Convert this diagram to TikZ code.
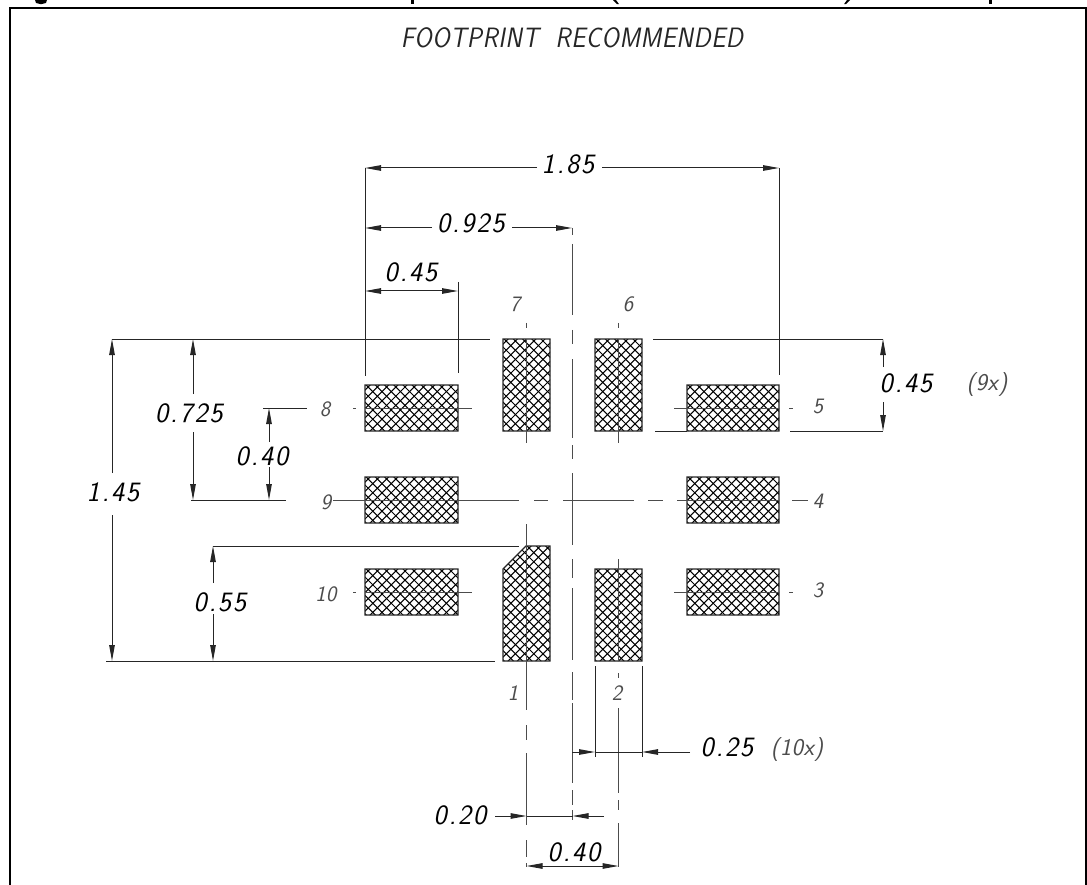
\documentclass[tikz,border=0pt]{standalone}
\usepackage{fontspec}
\usetikzlibrary{arrows.meta}
\newfontfamily\dimfont[LetterSpace=7]{Latin Modern Sans}[FakeSlant=0.2]
\newfontfamily\numfont[LetterSpace=2]{Latin Modern Sans}[FakeSlant=0.2]
\tikzset{
  framel/.style={line width=2pt,black},
  padl/.style={line width=1.3pt,black!85},
  hatchl/.style={line width=1.05pt,black},
  cl/.style={line width=1pt,black!70},
  ext/.style={line width=1pt,black!85},
  dimline/.style={line width=1pt,black!85,-{Stealth[length=16pt,width=5.5pt,inset=0pt]}},
  dimboth/.style={line width=1pt,black!85,{Stealth[length=16pt,width=5.5pt,inset=0pt]}-{Stealth[length=16pt,width=5.5pt,inset=0pt]}},
  dimtext/.style={inner sep=0pt,font=\dimfont\fontsize{28}{28}\selectfont,black},
  numtext/.style={inner sep=0pt,font=\numfont\fontsize{22}{22}\selectfont,black!70},
  noteText/.style={inner sep=0pt,font=\numfont\fontsize{24}{24}\selectfont,black!70},
  titletext/.style={inner sep=0pt,font=\numfont\fontsize{28}{28}\selectfont,black!85},
  frag/.style={fill=black,draw=none}
}
\newcommand{\padpaths}{
  (365,385) rectangle (458,431) (365,477) rectangle (458,523) (365,569) rectangle (458,615)
  (687,385) rectangle (779,431) (687,477) rectangle (779,523) (687,569) rectangle (779,615)
  (503,339) rectangle (550,431) (595,339) rectangle (642,431)
  (595,569) rectangle (642,661)
  (503,569) -- (526,546) -- (550,546) -- (550,661) -- (503,661) -- cycle
}
\begin{document}
\begin{tikzpicture}[x=1pt,y=-1pt]
\useasboundingbox (0,0) rectangle (1087,885);
% clipped fragments of a heading above the frame
\fill[frag] (35,0) -- (47,0) -- (46,3) -- (41,4.2) -- (36,3) -- cycle;
\fill[frag] (411,0) rectangle (414,4.5);
\fill[frag] (613,0) -- (616,0) -- (619,4.2) -- (617,4.2) -- cycle;
\fill[frag] (847,0) -- (850,0) -- (846,4.2) -- (844,4.2) -- cycle;
\fill[frag] (989,0) rectangle (992,4.5);
% frame
\draw[framel] (10,885) -- (10,8) -- (1086,8) -- (1086,885);
\node[titletext] (title) at (572,38) {\scalebox{0.90}[1]{FOOTPRINT\ \ RECOMMENDED}};
% pads
\fill[white] \padpaths;
\begin{scope}
  \clip \padpaths;
  \foreach \i in {0,...,130} {
    \pgfmathsetmacro{\c}{700+9.2*\i}
    \draw[hatchl] ({\c-300},300) -- ({\c-700},700);
    \pgfmathsetmacro{\d}{-350+9.2*\i}
    \draw[hatchl] ({\d+300},300) -- ({\d+700},700);
  }
\end{scope}
\draw[padl] \padpaths;
% centre lines, vertical
\draw[cl] (572.5,228) -- (572.5,235) (572.5,244) -- (572.5,315) (572.5,330) -- (572.5,344) (572.5,359) -- (572.5,438) (572.5,445) -- (572.5,459) (572.5,473) -- (572.5,545) (572.5,559) -- (572.5,578) (572.5,588) -- (572.5,660) (572.5,672) -- (572.5,700) (572.5,703) -- (572.5,783) (572.5,790) -- (572.5,805) (572.5,810) -- (572.5,820);
\draw[cl] (526.5,323) -- (526.5,328) (526.5,339) -- (526.5,443) (526.5,524) -- (526.5,710) (526.5,725) -- (526.5,740) (526.5,753) -- (526.5,825) (526.5,840) -- (526.5,857) (526.5,863) -- (526.5,867);
\draw[cl] (618.5,323) -- (618.5,328) (618.5,339) -- (618.5,443) (618.5,559) -- (618.5,661) (618.5,673) -- (618.5,678) (618.5,708) -- (618.5,793) (618.5,800) -- (618.5,810) (618.5,823) -- (618.5,867);
% centre lines, horizontal
\draw[cl] (333,500) -- (519,500) (534,500) -- (548,500) (563,500) -- (634,500) (648,500) -- (663,500) (677,500) -- (779,500) (792,500) -- (808,500);
\draw[cl] (353,408) -- (356,408) (365,408) -- (472,408) (674,408) -- (779,408) (789,408) -- (793,408);
\draw[cl] (353,592) -- (356,592) (365,592) -- (472,592) (674,592) -- (779,592) (789,592) -- (793,592);
% extension lines
\draw[ext] (112,339) -- (490,339) (653,339) -- (883,339);
\draw[ext] (106,661) -- (495,661);
\draw[ext] (655,431) -- (687,431) (790,431) -- (883,431);
\draw[ext] (191,500) -- (286,500);
\draw[ext] (213,546) -- (519,546);
\draw[ext] (263,408) -- (307,408);
\draw[ext] (365,168) -- (365,376) (779,168) -- (779,375) (458,282) -- (458,373);
\draw[ext] (595,666) -- (595,757) (642,666) -- (642,757);
% dimension labels
\node[dimtext] (d145) at (113,492) {1.45};
\node[dimtext] (d0725) at (189,413) {0.725};
\node[dimtext] (d040a) at (262,456) {0.40};
\node[dimtext] (d055) at (220,602) {0.55};
\node[dimtext] (d045r) at (906,383) {0.45};
\node[noteText] (n9x) at (987,385) {(9x)};
\node[dimtext] (d185) at (568,164) {1.85};
\node[dimtext] (d0925) at (471,223) {0.925};
\node[dimtext] (d045t) at (411,272) {0.45};
\node[dimtext] (d025) at (727,747) {0.25};
\node[noteText] (n10x) at (797,750) {(10x)};
\node[dimtext] (d020) at (460,815) {0.20};
\node[dimtext] (d040b) at (574,852) {0.40};
% dimension arrows
\draw[dimline] (112,473) -- (112,339);
\draw[dimline] (112,515) -- (112,661);
\draw[dimline] (193,394) -- (193,339);
\draw[dimline] (193,432) -- (193,500);
\draw[dimline] (269,442) -- (269,408);
\draw[dimline] (269,467) -- (269,500);
\draw[dimline] (213,583) -- (213,546);
\draw[dimline] (213,614) -- (213,661);
\draw[dimline] (883,367) -- (883,339);
\draw[dimline] (883,402) -- (883,431);
\draw[dimline] (537,168) -- (365,168);
\draw[dimline] (602,168) -- (779,168);
\draw[dimline] (432,228) -- (365,228);
\draw[dimline] (512,228) -- (572,228);
\draw[dimboth] (365,291) -- (458,291);
\draw[dimline] (572,752) -- (595,752);
\draw[dimline] (690,752) -- (642,752);
\draw[ext] (595,752) -- (642,752);
\draw[dimline] (495,816) -- (526.5,816);
\draw[ext] (526.5,816) -- (572.5,816);
\draw[dimline] (604,816) -- (572.5,816);
\draw[dimboth] (526.5,866) -- (618.5,866);
% pin numbers
\node[numtext] (p1) at (513,693) {1};
\node[numtext] (p2) at (617,693) {2};
\node[numtext] (p3) at (818,590) {3};
\node[numtext] (p4) at (818,501) {4};
\node[numtext] (p5) at (818,406) {5};
\node[numtext] (p6) at (628,304) {6};
\node[numtext] (p7) at (515,304) {7};
\node[numtext] (p8) at (325,409) {8};
\node[numtext] (p9) at (326,502) {9};
\node[numtext] (p10) at (326,594) {10};
\end{tikzpicture}
\end{document}
